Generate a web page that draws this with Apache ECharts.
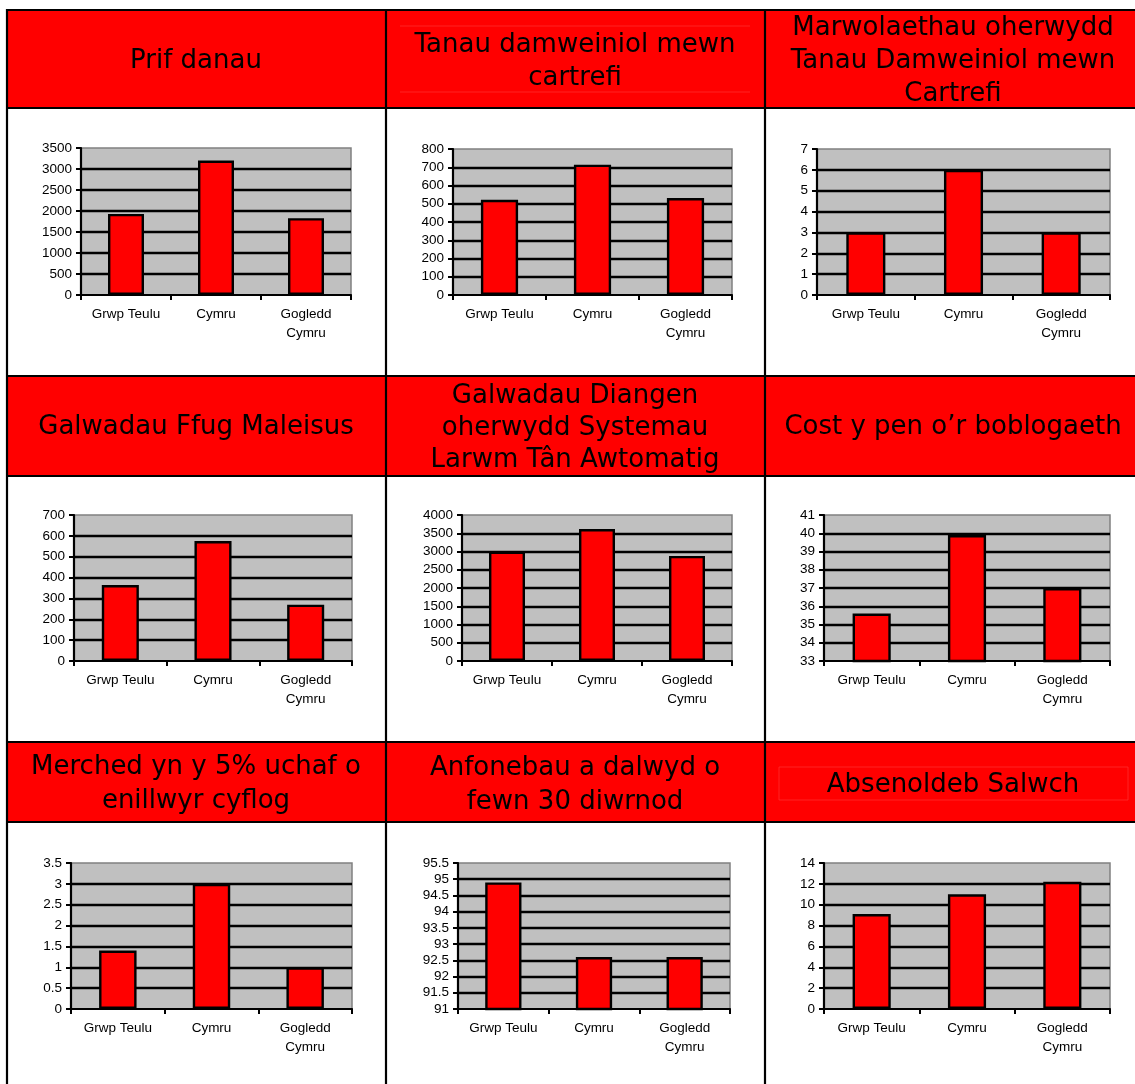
<!DOCTYPE html>
<html>
<head>
<meta charset="utf-8">
<script src="https://cdn.jsdelivr.net/npm/echarts@6/dist/echarts.min.js"></script>
<style>
  html, body { margin: 0; padding: 0; background: #fff; }
  #main { width: 1135px; height: 1084px; }
</style>
</head>
<body>
<div id="main"></div>
<script>
// ---- data ----
const categories = ['Grwp Teulu', 'Cymru', 'Gogledd\nCymru'];
const panelTitles = [
  'Prif danau',
  'Tanau damweiniol mewn\ncartrefi',
  'Marwolaethau oherwydd\nTanau Damweiniol mewn\nCartrefi',
  'Galwadau Ffug Maleisus',
  'Galwadau Diangen\noherwydd Systemau\nLarwm Tân Awtomatig',
  'Cost y pen o’r boblogaeth',
  'Merched yn y 5% uchaf o\nenillwyr cyflog',
  'Anfonebau a dalwyd o\nfewn 30 diwrnod',
  'Absenoldeb Salwch'
];
const prifDanau = [1930, 3200, 1830];
const tanauCartrefi = [522, 714, 531];
const marwolaethau = [3, 6, 3];
const galwadauFfug = [364, 575, 270];
const galwadauDiangen = [3000, 3615, 2880];
const costYPen = [35.6, 39.9, 37.0];
const merched = [1.4, 3.0, 1.0];
const anfonebau = [94.9, 92.6, 92.6];
const absenoldeb = [9.1, 11.0, 12.2];
const yMins = [0, 0, 0, 0, 0, 33, 0, 91, 0];
const yMaxs = [3500, 800, 7, 700, 4000, 41, 3.5, 95.5, 14];
const yIntervals = [500, 100, 1, 100, 500, 1, 0.5, 0.5, 2];

const seriesValues = [prifDanau, tanauCartrefi, marwolaethau, galwadauFfug,
  galwadauDiangen, costYPen, merched, anfonebau, absenoldeb];

// ---- layout ----
const gridBoxes = [
  [81, 148, 270, 147], [453, 149, 279, 146], [817, 149, 293, 146],
  [74, 515, 278, 146], [462, 515, 270, 146], [824, 515, 286, 146],
  [71, 863, 281, 146], [458, 863, 272, 146], [824, 863, 286, 146]
];
const titleCenters = [
  [196, 61, 33], [575, 61.5, 33], [953, 61, 33],
  [196, 427, 32], [575, 428.5, 32], [953, 427, 32],
  [196, 784.5, 34], [575, 785, 34], [953, 785, 34]
];
const headerRows = [[10, 108], [376, 476], [742, 822]];
const colLines = [7, 386, 765];

const chart = echarts.init(document.getElementById('main'), null, { renderer: 'canvas' });

const graphics = [];
headerRows.forEach(function (r) {
  graphics.push({ type: 'rect', z: 0, silent: true,
    shape: { x: 7, y: r[0], width: 1135, height: r[1] - r[0] },
    style: { fill: '#ff0000' } });
});
// faint text-box artifacts in some headers
graphics.push({ type: 'line', z: 1, silent: true, shape: { x1: 400, y1: 26, x2: 750, y2: 26 }, style: { stroke: '#ff3a3a', lineWidth: 0.6 } });
graphics.push({ type: 'line', z: 1, silent: true, shape: { x1: 400, y1: 92, x2: 750, y2: 92 }, style: { stroke: '#ff3a3a', lineWidth: 0.6 } });
graphics.push({ type: 'rect', z: 1, silent: true, shape: { x: 779, y: 767, width: 349, height: 33 }, style: { fill: 'none', stroke: '#ff3a3a', lineWidth: 0.6 } });
// horizontal table lines
[10, 108, 376, 476, 742, 822].forEach(function (y) {
  graphics.push({ type: 'line', z: 5, silent: true,
    shape: { x1: 6, y1: y, x2: 1135, y2: y },
    style: { stroke: '#000', lineWidth: 2.2 } });
});
// vertical table lines
colLines.forEach(function (x) {
  graphics.push({ type: 'line', z: 5, silent: true,
    shape: { x1: x, y1: 9, x2: x, y2: 1084 },
    style: { stroke: '#000', lineWidth: 2.2 } });
});

const titles = panelTitles.map(function (t, i) {
  return {
    text: t,
    left: titleCenters[i][0],
    top: titleCenters[i][1],
    textAlign: 'center',
    textVerticalAlign: 'middle',
    padding: 0,
    z: 10,
    textStyle: {
      fontFamily: 'DejaVu Sans',
      fontWeight: 'normal',
      fontSize: 26,
      lineHeight: titleCenters[i][2],
      color: '#000'
    }
  };
});

const grids = [], xAxes = [], yAxes = [], series = [];
seriesValues.forEach(function (vals, i) {
  const b = gridBoxes[i];
  grids.push({
    left: b[0], top: b[1], width: b[2], height: b[3],
    show: true, backgroundColor: '#c0c0c0', borderColor: '#808080', borderWidth: 1.5,
    containLabel: false
  });
  xAxes.push({
    type: 'category', gridIndex: i, data: categories,
    axisLine: { show: true, lineStyle: { color: '#000', width: 2.2 } },
    axisTick: { show: true, length: 5, lineStyle: { color: '#000', width: 2 } },
    axisLabel: { color: '#000', fontFamily: 'Liberation Sans', fontSize: 13.5, lineHeight: 19, margin: 10, interval: 0 },
    splitLine: { show: false }
  });
  yAxes.push({
    type: 'value', gridIndex: i,
    min: yMins[i], max: yMaxs[i], interval: yIntervals[i],
    axisLine: { show: true, lineStyle: { color: '#000', width: 2.2 } },
    axisTick: { show: true, length: 5, lineStyle: { color: '#000', width: 2 } },
    axisLabel: { color: '#000', fontFamily: 'Liberation Sans', fontSize: 13.5, margin: 9,
      formatter: function (v) { return String(v); } },
    splitLine: { show: true, showMinLine: false, showMaxLine: false, lineStyle: { color: '#000', width: 2.4 } }
  });
  series.push({
    type: 'bar', xAxisIndex: i, yAxisIndex: i,
    data: vals, barWidth: '40%', clip: true,
    itemStyle: { color: '#ff0000', borderColor: '#000', borderWidth: 2.4 },
    emphasis: { disabled: true },
    animation: false
  });
});

chart.setOption({
  animation: false,
  backgroundColor: '#fff',
  title: titles,
  graphic: graphics,
  grid: grids,
  xAxis: xAxes,
  yAxis: yAxes,
  series: series
});
</script>
</body>
</html>
